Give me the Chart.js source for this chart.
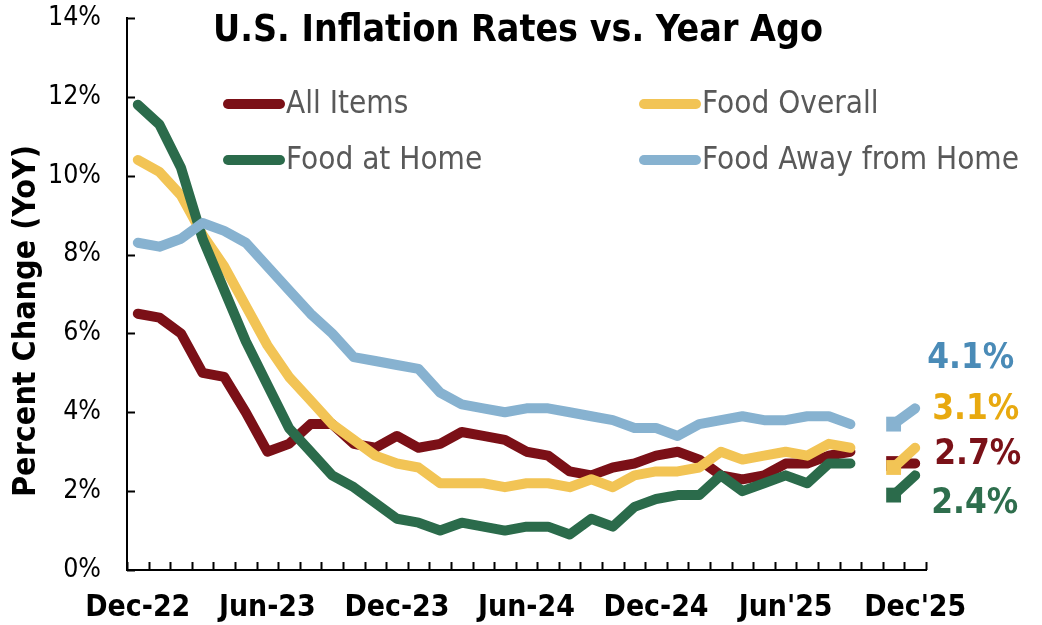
<!DOCTYPE html>
<html>
<head>
<meta charset="utf-8">
<script src="https://cdn.jsdelivr.net/npm/chart.js@4.4.1/dist/chart.umd.min.js"></script>
<style>
  html, body { margin: 0; padding: 0; background: #fff; }
  #wrap { width: 1042px; height: 625px; }
</style>
</head>
<body>
<div id="wrap"><canvas id="chart" width="1042" height="625"></canvas></div>
<script>
// monthly categories, Dec-22 .. Dec'25 (no Oct'25 release)
var months = ['Dec-22', 'Jan-23', 'Feb-23', 'Mar-23', 'Apr-23', 'May-23', 'Jun-23', 'Jul-23', 'Aug-23',
  'Sep-23', 'Oct-23', 'Nov-23', 'Dec-23', 'Jan-24', 'Feb-24', 'Mar-24', 'Apr-24', 'May-24', 'Jun-24',
  'Jul-24', 'Aug-24', 'Sep-24', 'Oct-24', 'Nov-24', 'Dec-24', "Jan'25", "Feb'25", "Mar'25", "Apr'25",
  "May'25", "Jun'25", "Jul'25", "Aug'25", "Sep'25", "Oct'25", "Nov'25", "Dec'25"];

var allItems = [6.5, 6.4, 6.0, 5.0, 4.9, 4.0, 3.0, 3.2, 3.7, 3.7, 3.2, 3.1, 3.4,
  3.1, 3.2, 3.5, 3.4, 3.3, 3.0, 2.9, 2.5, 2.4, 2.6, 2.7, 2.9,
  3.0, 2.8, 2.4, 2.3, 2.4, 2.7, 2.7, 2.9, 3.0, null, 2.7, 2.7];
var foodOverall = [10.4, 10.1, 9.5, 8.5, 7.7, 6.7, 5.7, 4.9, 4.3, 3.7, 3.3, 2.9, 2.7,
  2.6, 2.2, 2.2, 2.2, 2.1, 2.2, 2.2, 2.1, 2.3, 2.1, 2.4, 2.5,
  2.5, 2.6, 3.0, 2.8, 2.9, 3.0, 2.9, 3.2, 3.1, null, 2.6, 3.1];
var foodAtHome = [11.8, 11.3, 10.2, 8.4, 7.1, 5.8, 4.7, 3.6, 3.0, 2.4, 2.1, 1.7, 1.3,
  1.2, 1.0, 1.2, 1.1, 1.0, 1.1, 1.1, 0.9, 1.3, 1.1, 1.6, 1.8,
  1.9, 1.9, 2.4, 2.0, 2.2, 2.4, 2.2, 2.7, 2.7, null, 1.9, 2.4];
var foodAway = [8.3, 8.2, 8.4, 8.8, 8.6, 8.3, 7.7, 7.1, 6.5, 6.0, 5.4, 5.3, 5.2,
  5.1, 4.5, 4.2, 4.1, 4.0, 4.1, 4.1, 4.0, 3.9, 3.8, 3.6, 3.6,
  3.4, 3.7, 3.8, 3.9, 3.8, 3.8, 3.9, 3.9, 3.7, null, 3.7, 4.1];

var seriesNames = ['All Items', 'Food Overall', 'Food at Home', 'Food Away from Home'];
var yTicks = [0, 2, 4, 6, 8, 10, 12, 14];

var lineColors = ['#7B1017', '#F2C455', '#2B6B4B', '#87B2D0'];
var labelColors = ['#7A1118', '#E8A90F', '#2E6E4D', '#4A8BB7'];
// end-label nudges (px) so the four labels don't collide
var labelNudge = [[19, -9], [17, -38], [16, 29], [12, -49]];

var FAMILY = "'DejaVu Sans Condensed', 'DejaVu Sans', sans-serif";

// size fonts so texts take the same width as in the original
var mctx = document.createElement('canvas').getContext('2d');
function fit(text, weight, target) {
  mctx.font = weight + ' 100px ' + FAMILY;
  return 100 * target / mctx.measureText(text).width;
}
var titleSize = fit('U.S. Inflation Rates vs. Year Ago', 'bold', 610);
var yTitleSize = fit('Percent Change (YoY)', 'bold', 352);
var xTickSize = fit('Dec-22', 'bold', 105);
var yTickSize = fit('10%', 'normal', 53);
var legendSize = fit('Food Away from Home', 'normal', 317);
var endSize = fit('4.1%', 'bold', 87);

var NOV = months.indexOf("Nov'25");

var decor = {
  id: 'decor',
  afterDraw: function(chart) {
    var ctx = chart.ctx, x = chart.scales.x, y = chart.scales.y, area = chart.chartArea;
    ctx.save();

    // inner tick marks
    ctx.strokeStyle = '#000';
    ctx.lineWidth = 2;
    var half = (x.getPixelForValue(1) - x.getPixelForValue(0)) / 2;
    ctx.beginPath();
    for (var i = 0; i <= months.length; i++) {
      var bx = Math.round(x.getPixelForValue(i) - half) + 0.5;
      ctx.moveTo(bx, area.bottom);
      ctx.lineTo(bx, area.bottom - 8);
    }
    yTicks.forEach(function(t) {
      var py = Math.round(y.getPixelForValue(t)) + 0.5;
      ctx.moveTo(area.left, py);
      ctx.lineTo(area.left + 8, py);
    });
    ctx.stroke();

    // title
    ctx.fillStyle = '#000';
    ctx.font = 'bold ' + titleSize + 'px ' + FAMILY;
    ctx.textAlign = 'center';
    ctx.textBaseline = 'middle';
    ctx.fillText('U.S. Inflation Rates vs. Year Ago', 518, 31);

    // y axis title
    ctx.save();
    ctx.translate(27, 321);
    ctx.rotate(-Math.PI / 2);
    ctx.font = 'bold ' + yTitleSize + 'px ' + FAMILY;
    ctx.fillText('Percent Change (YoY)', 0, 0);
    ctx.restore();

    // legend, 2 x 2
    var cols = [223, 639], rows = [104, 160];
    ctx.font = legendSize + 'px ' + FAMILY;
    ctx.textAlign = 'left';
    chart.data.datasets.forEach(function(ds, k) {
      var lx = cols[k % 2], ly = rows[Math.floor(k / 2)];
      ctx.strokeStyle = ds.borderColor;
      ctx.lineWidth = 10;
      ctx.lineCap = 'round';
      ctx.beginPath();
      ctx.moveTo(lx + 5, ly);
      ctx.lineTo(lx + 57, ly);
      ctx.stroke();
      ctx.fillStyle = '#595959';
      ctx.fillText(ds.label, lx + 63, ly + 1);
    });

    // latest-value labels
    ctx.font = 'bold ' + endSize + 'px ' + FAMILY;
    var last = months.length - 1;
    chart.data.datasets.forEach(function(ds, k) {
      var v = ds.data[last];
      var px = x.getPixelForValue(last), py = y.getPixelForValue(v);
      ctx.fillStyle = labelColors[k];
      ctx.fillText(v.toFixed(1) + '%', px + labelNudge[k][0], py + labelNudge[k][1]);
    });

    ctx.restore();
  }
};

function series(name, values, k) {
  return {
    label: name,
    data: values,
    borderColor: lineColors[k],
    backgroundColor: lineColors[k],
    borderWidth: 10,
    borderCapStyle: 'round',
    borderJoinStyle: 'round',
    tension: 0,
    spanGaps: false,
    order: 4 - k,
    pointStyle: 'rect',
    pointBorderWidth: 0,
    pointBackgroundColor: lineColors[k],
    pointRadius: function(c) { return c.dataIndex === NOV ? 10.5 : 0; }
  };
}

function noOverflow(s) {
  s.paddingTop = 0; s.paddingBottom = 0; s.paddingLeft = 0; s.paddingRight = 0;
}

new Chart(document.getElementById('chart').getContext('2d'), {
  type: 'line',
  data: {
    labels: months,
    datasets: [
      series(seriesNames[0], allItems, 0),
      series(seriesNames[1], foodOverall, 1),
      series(seriesNames[2], foodAtHome, 2),
      series(seriesNames[3], foodAway, 3)
    ]
  },
  options: {
    responsive: false,
    animation: false,
    events: [],
    layout: { padding: { top: 18, right: 116, bottom: 0, left: 0 } },
    plugins: { legend: { display: false }, tooltip: { enabled: false } },
    scales: {
      x: {
        offset: true,
        grid: { display: false, drawTicks: false },
        border: { display: true, color: '#000', width: 2 },
        ticks: {
          autoSkip: false, maxRotation: 0, minRotation: 0,
          padding: 608 - 570 - xTickSize * 0.6,
          color: '#000',
          font: { family: FAMILY, size: xTickSize, weight: 'bold' },
          callback: function(v, i) { return i % 6 === 0 ? months[i] : ''; }
        },
        afterFit: function(s) { s.height = 55; noOverflow(s); }
      },
      y: {
        min: 0, max: 14,
        grid: { display: false, drawTicks: false },
        border: { display: true, color: '#000', width: 2 },
        ticks: {
          stepSize: 2, padding: 26, color: '#000',
          font: { family: FAMILY, size: yTickSize },
          callback: function(v) { return v + '%'; }
        },
        afterFit: function(s) { s.width = 127; noOverflow(s); }
      }
    }
  },
  plugins: [decor]
});
</script>
</body>
</html>
